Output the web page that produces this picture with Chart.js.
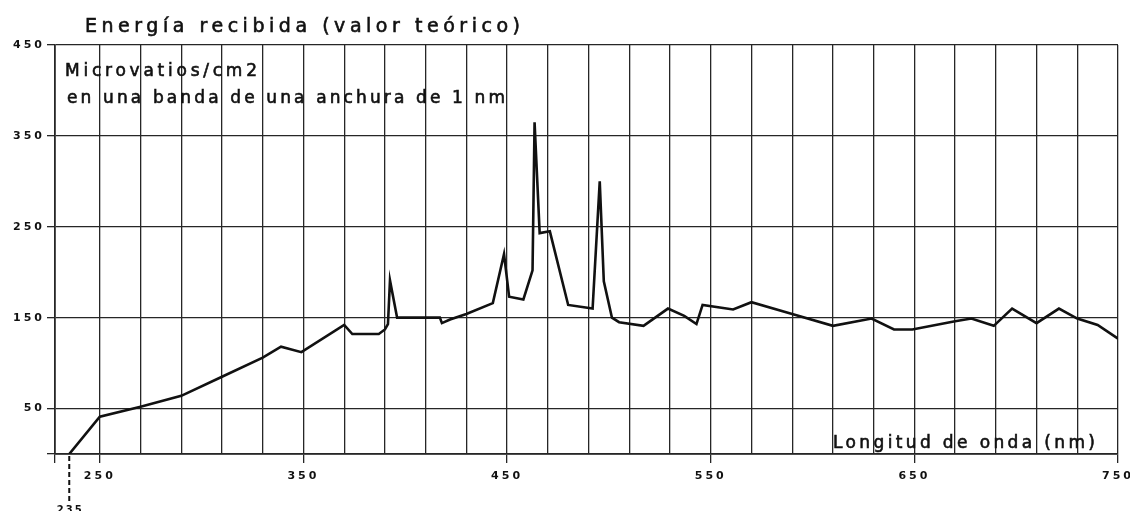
<!DOCTYPE html>
<html lang="es">
<head>
<meta charset="UTF-8">
<title>Energía recibida</title>
<script src="https://cdn.jsdelivr.net/npm/chart.js"></script>
<style>
  html, body { margin: 0; padding: 0; background: #fff; }
  #wrap { width: 1130px; height: 511px; position: relative; }
</style>
</head>
<body>
<div id="wrap"><canvas id="myChart"></canvas></div>
<script>
// wavelength (nm) and energy (microvatios/cm2 per nm)
const wavelengths = [235, 250, 270, 290, 310, 330, 339, 349, 370, 374,
    387, 390, 391.5, 392.5, 396, 417, 418, 422, 430, 443,
    448.5, 451, 458, 462.5, 463.5, 466, 471, 480, 492, 495.5,
    497.5, 501.5, 505, 517, 529, 537, 543, 546, 561, 570,
    590, 610, 629, 640, 649, 670, 678, 689, 698, 710,
    721, 730, 740, 750];
const energy = [0, 41, 52, 64, 85, 106, 118, 112, 142, 132,
    132, 137, 143, 191, 150, 150, 144, 148, 154, 166,
    220, 173, 170, 202, 365, 243, 245, 164, 160, 300,
    190, 150, 145, 141, 160, 152, 143, 164, 159, 167,
    154, 141, 149, 137, 137, 146, 149, 141, 160, 144,
    160, 149, 142, 127];

// the hand drawn axis starts a little before 230
const xMin = 228;
const xMax = 750;
const xGrid = [xMin];
for (let v = 250; v <= 750; v += 20) xGrid.push(v);
const xLabels = [250, 350, 450, 550, 650, 750];
const xTickMarks = [xMin, 250, 350, 450, 550, 650, 750];
const yTicks = [0, 50, 150, 250, 350, 450];

const FONT = 'DejaVu Sans';
const INK = '#111';
const GRID = '#262626';

// draw text stretched to a given width with letter spacing
function spacedText(ctx, text, x, y, width, size) {
    ctx.font = size + 'px "' + FONT + '"';
    ctx.letterSpacing = '0px';
    const w = ctx.measureText(text).width;
    const sp = Math.max(0, (width - w) / (text.length - 1));
    ctx.letterSpacing = sp + 'px';
    ctx.fillText(text, x, y);
    ctx.strokeText(text, x, y); // pen strokes are a bit heavier than the font
    ctx.letterSpacing = '0px';
}

const labels_plugin = {
    id: 'labels_plugin',
    beforeDraw: (chart) => {
        chart.ctx.letterSpacing = '3px';
    },
    afterDraw: (chart) => {
        const ctx = chart.ctx;
        const xs = chart.scales.x;
        ctx.save();
        ctx.fillStyle = INK;
        ctx.strokeStyle = INK;
        ctx.lineWidth = 0.6;
        ctx.textAlign = 'left';
        ctx.textBaseline = 'alphabetic';
        spacedText(ctx, 'Energía recibida (valor teórico)', 85, 32, 435, 19);
        spacedText(ctx, 'Microvatios/cm2', 65, 76, 192, 17);
        spacedText(ctx, 'en una banda de una anchura de 1 nm', 67, 103, 438, 17);
        spacedText(ctx, 'Longitud de onda (nm)', 833, 448, 262, 17);

        // dashed marker at 235 nm
        const px = xs.getPixelForValue(235);
        ctx.lineWidth = 2;
        ctx.setLineDash([5, 3]);
        ctx.beginPath();
        ctx.moveTo(px, chart.chartArea.bottom + 2);
        ctx.lineTo(px, 502);
        ctx.stroke();
        ctx.setLineDash([]);
        ctx.font = 'bold 10px "' + FONT + '"';
        ctx.letterSpacing = '2px';
        ctx.textAlign = 'center';
        ctx.fillText('235', px + 1, 513);
        ctx.restore();
    }
};

const data = {
    datasets: [{
        label: 'Energía',
        data: wavelengths.map((w, i) => ({ x: w, y: energy[i] })),
        borderColor: '#111',
        borderWidth: 2.6,
        pointRadius: 0,
        tension: 0,
        fill: false
    }]
};

const config = {
    type: 'line',
    data: data,
    options: {
        responsive: true,
        maintainAspectRatio: false,
        animation: false,
        layout: { padding: { top: 45, right: 12, left: 0, bottom: 0 } },
        plugins: {
            legend: { display: false },
            tooltip: { enabled: false }
        },
        scales: {
            x: {
                type: 'linear',
                min: xMin,
                max: xMax,
                afterBuildTicks: (scale) => {
                    scale.ticks = xGrid.map(v => ({ value: v }));
                },
                afterFit: (scale) => {
                    scale.height = 57;
                    scale.paddingLeft = 0;
                    scale.paddingRight = 0;
                },
                ticks: {
                    autoSkip: false,
                    maxRotation: 0,
                    padding: 7,
                    color: INK,
                    font: { family: FONT, size: 11, weight: 'bold' },
                    callback: (v) => xLabels.includes(v) ? String(v) : ''
                },
                grid: {
                    color: GRID,
                    lineWidth: 1.3,
                    tickLength: 9,
                    tickColor: (c) => (c.tick && xTickMarks.includes(c.tick.value)) ? GRID : 'rgba(0,0,0,0)'
                },
                border: { color: GRID, width: 1.7 }
            },
            y: {
                min: 0,
                max: 450,
                afterBuildTicks: (scale) => {
                    scale.ticks = yTicks.map(v => ({ value: v }));
                },
                afterFit: (scale) => { scale.width = 55; },
                ticks: {
                    padding: 2,
                    color: INK,
                    font: { family: FONT, size: 11, weight: 'bold' },
                    callback: (v) => v === 0 ? '' : String(v)
                },
                grid: {
                    color: GRID,
                    lineWidth: 1.3,
                    tickLength: 8
                },
                border: { color: GRID, width: 1.7 }
            }
        }
    },
    plugins: [labels_plugin]
};

var chart = new Chart(document.getElementById('myChart'), config);
</script>
</body>
</html>
